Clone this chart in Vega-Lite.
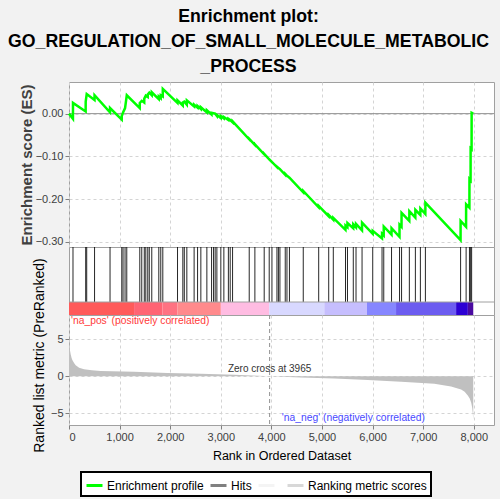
{
  "$schema": "https://vega.github.io/schema/vega-lite/v6.json",
  "background": "#f2f2f2",
  "padding": {"left": 8, "top": 7, "right": 7, "bottom": 2},
  "title": {
    "text": ["Enrichment plot:", "GO_REGULATION_OF_SMALL_MOLECULE_METABOLIC", "_PROCESS"],
    "font": "Liberation Sans", "fontSize": 17.7, "fontWeight": "bold", "color": "black",
    "lineHeight": 25, "anchor": "middle", "frame": "group", "offset": 6, "dx": -33
  },
  "bounds": "flush",
  "datasets": {
    "es": [
      {"rank": 0, "es": 0}, {"rank": 78, "es": -0.012}, {"rank": 79, "es": 0.025},
      {"rank": 329, "es": 0.005}, {"rank": 330, "es": 0.028}, {"rank": 350, "es": 0.046},
      {"rank": 504, "es": 0.032}, {"rank": 505, "es": 0.043}, {"rank": 810, "es": 0.003},
      {"rank": 811, "es": 0.013}, {"rank": 1042, "es": -0.014}, {"rank": 1043, "es": -0.006},
      {"rank": 1068, "es": 0.003}, {"rank": 1108, "es": 0.013}, {"rank": 1142, "es": 0.043},
      {"rank": 1398, "es": 0.013}, {"rank": 1399, "es": 0.025}, {"rank": 1438, "es": 0.030},
      {"rank": 1487, "es": 0.026}, {"rank": 1488, "es": 0.035}, {"rank": 1518, "es": 0.042},
      {"rank": 1556, "es": 0.039}, {"rank": 1557, "es": 0.045}, {"rank": 1587, "es": 0.049},
      {"rank": 1635, "es": 0.043}, {"rank": 1636, "es": 0.050}, {"rank": 1774, "es": 0.034},
      {"rank": 1775, "es": 0.040}, {"rank": 1813, "es": 0.036}, {"rank": 1814, "es": 0.043},
      {"rank": 1853, "es": 0.040}, {"rank": 1854, "es": 0.058}, {"rank": 2144, "es": 0.025},
      {"rank": 2145, "es": 0.031}, {"rank": 2249, "es": 0.019}, {"rank": 2250, "es": 0.026},
      {"rank": 2279, "es": 0.028}, {"rank": 2328, "es": 0.021}, {"rank": 2329, "es": 0.031},
      {"rank": 2472, "es": 0.017}, {"rank": 2473, "es": 0.021}, {"rank": 2540, "es": 0.014},
      {"rank": 2541, "es": 0.018}, {"rank": 2605, "es": 0.011}, {"rank": 2606, "es": 0.015},
      {"rank": 2724, "es": 0.003}, {"rank": 2725, "es": 0.008}, {"rank": 2817, "es": -0.002},
      {"rank": 2818, "es": 0.002}, {"rank": 2857, "es": 0.001}, {"rank": 2889, "es": 0.000},
      {"rank": 2922, "es": -0.005}, {"rank": 2923, "es": -0.003}, {"rank": 3000, "es": -0.010},
      {"rank": 3001, "es": -0.006}, {"rank": 3060, "es": -0.011}, {"rank": 3061, "es": -0.008},
      {"rank": 3149, "es": -0.015}, {"rank": 3150, "es": -0.012}, {"rank": 3186, "es": -0.015},
      {"rank": 3232, "es": -0.020}, {"rank": 3233, "es": -0.018}, {"rank": 3561, "es": -0.060},
      {"rank": 3562, "es": -0.059}, {"rank": 3673, "es": -0.073}, {"rank": 3674, "es": -0.072},
      {"rank": 3857, "es": -0.095}, {"rank": 3858, "es": -0.094}, {"rank": 3956, "es": -0.107},
      {"rank": 3957, "es": -0.107}, {"rank": 4010, "es": -0.113}, {"rank": 4011, "es": -0.113},
      {"rank": 4109, "es": -0.125}, {"rank": 4110, "es": -0.124}, {"rank": 4139, "es": -0.127},
      {"rank": 4169, "es": -0.130}, {"rank": 4273, "es": -0.143}, {"rank": 4274, "es": -0.141},
      {"rank": 4308, "es": -0.145}, {"rank": 4357, "es": -0.150}, {"rank": 4629, "es": -0.184},
      {"rank": 4630, "es": -0.181}, {"rank": 4934, "es": -0.219}, {"rank": 4935, "es": -0.216},
      {"rank": 5132, "es": -0.240}, {"rank": 5133, "es": -0.237}, {"rank": 5223, "es": -0.248},
      {"rank": 5224, "es": -0.244}, {"rank": 5464, "es": -0.272}, {"rank": 5465, "es": -0.262},
      {"rank": 5503, "es": -0.266}, {"rank": 5504, "es": -0.256}, {"rank": 5618, "es": -0.268},
      {"rank": 5619, "es": -0.259}, {"rank": 5672, "es": -0.266}, {"rank": 5673, "es": -0.258},
      {"rank": 5791, "es": -0.273}, {"rank": 5792, "es": -0.255}, {"rank": 6002, "es": -0.281},
      {"rank": 6003, "es": -0.274}, {"rank": 6186, "es": -0.292}, {"rank": 6187, "es": -0.281},
      {"rank": 6220, "es": -0.285}, {"rank": 6221, "es": -0.264}, {"rank": 6374, "es": -0.283},
      {"rank": 6375, "es": -0.268}, {"rank": 6532, "es": -0.288}, {"rank": 6533, "es": -0.260},
      {"rank": 6572, "es": -0.265}, {"rank": 6573, "es": -0.232}, {"rank": 6726, "es": -0.251},
      {"rank": 6727, "es": -0.228}, {"rank": 6845, "es": -0.243}, {"rank": 6846, "es": -0.225},
      {"rank": 6944, "es": -0.237}, {"rank": 6945, "es": -0.222}, {"rank": 7043, "es": -0.235},
      {"rank": 7044, "es": -0.208}, {"rank": 7739, "es": -0.296}, {"rank": 7740, "es": -0.251},
      {"rank": 7848, "es": -0.265}, {"rank": 7849, "es": -0.212}, {"rank": 7914, "es": -0.220},
      {"rank": 7915, "es": -0.153}, {"rank": 7937, "es": -0.156}, {"rank": 7938, "es": -0.081},
      {"rank": 7957, "es": -0.083}, {"rank": 7958, "es": 0.002}, {"rank": 7990, "es": 0.0}
    ],
    "hits": [
      {"rank": 79}, {"rank": 330}, {"rank": 350}, {"rank": 505}, {"rank": 811}, {"rank": 1043},
      {"rank": 1068}, {"rank": 1108}, {"rank": 1142}, {"rank": 1399}, {"rank": 1438}, {"rank": 1488},
      {"rank": 1518}, {"rank": 1557}, {"rank": 1587}, {"rank": 1636}, {"rank": 1775}, {"rank": 1814},
      {"rank": 1854}, {"rank": 2145}, {"rank": 2250}, {"rank": 2279}, {"rank": 2329}, {"rank": 2473},
      {"rank": 2541}, {"rank": 2606}, {"rank": 2725}, {"rank": 2818}, {"rank": 2857}, {"rank": 2889},
      {"rank": 2923}, {"rank": 3001}, {"rank": 3061}, {"rank": 3150}, {"rank": 3186}, {"rank": 3233},
      {"rank": 3562}, {"rank": 3674}, {"rank": 3858}, {"rank": 3957}, {"rank": 4011}, {"rank": 4110},
      {"rank": 4139}, {"rank": 4169}, {"rank": 4274}, {"rank": 4308}, {"rank": 4357}, {"rank": 4630},
      {"rank": 4935}, {"rank": 5133}, {"rank": 5224}, {"rank": 5465}, {"rank": 5504}, {"rank": 5619},
      {"rank": 5673}, {"rank": 5792}, {"rank": 6003}, {"rank": 6187}, {"rank": 6221}, {"rank": 6375},
      {"rank": 6533}, {"rank": 6573}, {"rank": 6727}, {"rank": 6846}, {"rank": 6945}, {"rank": 7044},
      {"rank": 7740}, {"rank": 7849}, {"rank": 7915}, {"rank": 7938}, {"rank": 7958}
    ],
    "bar": [
      {"start": 0, "end": 1286, "seg": "a"},
      {"start": 1286, "end": 1848, "seg": "b"},
      {"start": 1848, "end": 2145, "seg": "c"},
      {"start": 2145, "end": 3001, "seg": "d"},
      {"start": 3001, "end": 3957, "seg": "e"},
      {"start": 3957, "end": 5046, "seg": "f"},
      {"start": 5046, "end": 5890, "seg": "g"},
      {"start": 5890, "end": 6464, "seg": "h"},
      {"start": 6464, "end": 7651, "seg": "i"},
      {"start": 7651, "end": 7883, "seg": "j"},
      {"start": 7883, "end": 7990, "seg": "k"}
    ],
    "metric": [
      {"rank": 0, "metric": 5.4}, {"rank": 10, "metric": 4.2}, {"rank": 20, "metric": 3.5},
      {"rank": 33, "metric": 3.0}, {"rank": 50, "metric": 2.5}, {"rank": 66, "metric": 2.2},
      {"rank": 100, "metric": 1.8}, {"rank": 132, "metric": 1.5}, {"rank": 200, "metric": 1.15},
      {"rank": 297, "metric": 0.95}, {"rank": 450, "metric": 0.8}, {"rank": 627, "metric": 0.72},
      {"rank": 1286, "metric": 0.6}, {"rank": 1946, "metric": 0.45}, {"rank": 2606, "metric": 0.35},
      {"rank": 3265, "metric": 0.2}, {"rank": 3965, "metric": 0.0}, {"rank": 4585, "metric": -0.15},
      {"rank": 5244, "metric": -0.3}, {"rank": 5904, "metric": -0.5}, {"rank": 6563, "metric": -0.75},
      {"rank": 7222, "metric": -1.0}, {"rank": 7400, "metric": -1.2}, {"rank": 7552, "metric": -1.4},
      {"rank": 7650, "metric": -1.6}, {"rank": 7750, "metric": -1.8}, {"rank": 7820, "metric": -2.1},
      {"rank": 7882, "metric": -2.6}, {"rank": 7920, "metric": -3.0}, {"rank": 7950, "metric": -3.6},
      {"rank": 7970, "metric": -4.3}, {"rank": 7980, "metric": -5.0}, {"rank": 7990, "metric": -5.9}
    ]
  },
  "spacing": 0,
  "config": {
    "font": "Liberation Sans",
    "view": {"fill": "white", "stroke": "#a0a0a0"},
    "axis": {
      "domain": false, "gridDash": [3, 3], "gridColor": "#d4d4d4",
      "tickColor": "#808080", "tickSize": 4, "labelFont": "Liberation Sans",
      "labelFontSize": 11, "labelColor": "#404040", "titleFont": "Liberation Sans",
      "titleFontWeight": "normal", "titleColor": "black", "titleFontSize": 12.5
    },
    "legend": {
      "orient": "none", "legendX": 12, "legendY": 390,
      "direction": "horizontal", "title": null, "gridAlign": "none",
      "fillColor": "white", "strokeColor": "black", "strokeWidth": 2, "padding": 4,
      "symbolType": "stroke", "symbolStrokeWidth": 3, "symbolSize": 256,
      "labelFontSize": 12, "labelFont": "Liberation Sans", "labelColor": "black",
      "labelOffset": 3, "columnPadding": 0
    }
  },
  "vconcat": [
    {
      "width": 425,
      "height": 165,
      "layer": [
        {
          "data": {"values": [{"z": 0}]},
          "mark": {"type": "rule", "color": "#909090", "strokeWidth": 1},
          "encoding": {"y": {"field": "z", "type": "quantitative"}}
        },
        {
          "data": {"name": "es"},
          "mark": {"type": "line", "strokeWidth": 2.5},
          "encoding": {
            "x": {
              "field": "rank", "type": "quantitative",
              "scale": {"domain": [0, 8400], "nice": false},
              "axis": {"labels": false, "ticks": false, "title": null, "values": [0, 1000, 2000, 3000, 4000, 5000, 6000, 7000, 8000]}
            },
            "y": {
              "field": "es", "type": "quantitative",
              "scale": {"domain": [-0.312, 0.074], "nice": false, "zero": false},
              "axis": {
                "title": "Enrichment score (ES)", "titleFontSize": 15, "titleColor": "#404040",
                "titleFontWeight": "bold", "format": ".2f", "titlePadding": 1,
                "values": [-0.3, -0.25, -0.2, -0.15, -0.1, -0.05, 0, 0.05]
              }
            },
            "color": {
              "datum": "Enrichment profile",
              "scale": {
                "domain": ["Enrichment profile", "Hits", "", "Ranking metric scores"],
                "range": ["#00ff00", "#808080", "#f4f4f4", "#d8d8d8"]
              }
            }
          }
        }
      ]
    },
    {
      "width": 425,
      "height": 68,
      "layer": [
        {
          "data": {"name": "hits"},
          "mark": {"type": "rule", "color": "#000000", "strokeWidth": 1, "opacity": 0.85},
          "encoding": {
            "x": {
              "field": "rank", "type": "quantitative",
              "scale": {"domain": [0, 8400], "nice": false}, "axis": null
            },
            "y": {"datum": 13, "type": "quantitative", "scale": {"domain": [0, 68], "nice": false}, "axis": null},
            "y2": {"datum": 68}
          }
        },
        {
          "data": {"name": "bar"},
          "mark": {"type": "rect"},
          "encoding": {
            "x": {"field": "start", "type": "quantitative"},
            "x2": {"field": "end"},
            "y": {"datum": 0, "type": "quantitative"},
            "y2": {"datum": 13},
            "fill": {
              "field": "seg", "type": "nominal", "legend": null,
              "scale": {
                "domain": ["a", "b", "c", "d", "e", "f", "g", "h", "i", "j", "k"],
                "range": ["#ff5a5a", "#ff6474", "#ff7282", "#ff8a8c", "#ffbce2", "#d8d8ff", "#c6befe", "#8686ff", "#6c5cf0", "#2c00d4", "#4a0aa0"]
              }
            }
          }
        },
        {
          "data": {"values": [{"z": 13}]},
          "mark": {"type": "rule", "color": "#a0a0a0", "strokeWidth": 1},
          "encoding": {"y": {"field": "z", "type": "quantitative"}}
        }
      ]
    },
    {
      "width": 425,
      "height": 110,
      "layer": [
        {
          "data": {"name": "metric"},
          "mark": {"type": "area", "color": "#c0c0c0", "interpolate": "linear"},
          "encoding": {
            "x": {
              "field": "rank", "type": "quantitative",
              "scale": {"domain": [0, 8400], "nice": false},
              "axis": {
                "title": "Rank in Ordered Dataset", "format": ",d", "titlePadding": 7,
                "values": [0, 1000, 2000, 3000, 4000, 5000, 6000, 7000, 8000]
              }
            },
            "y": {
              "field": "metric", "type": "quantitative",
              "scale": {"domain": [-6.6, 8.3], "nice": false, "zero": false},
              "axis": {"title": "Ranked list metric (PreRanked)", "titleFontSize": 14, "titleY": 40, "values": [-5, 0, 5]}
            }
          }
        },
        {
          "data": {"values": [{"z": 3965}]},
          "mark": {"type": "rule", "color": "#909090", "strokeDash": [4, 3]},
          "encoding": {"x": {"field": "z", "type": "quantitative"}}
        },
        {
          "data": {"values": [{"rank": 3965, "metric": 0.35, "label": "Zero cross at 3965"}]},
          "mark": {"type": "text", "fontSize": 10, "color": "#333333", "baseline": "bottom"},
          "encoding": {
            "x": {"field": "rank", "type": "quantitative"},
            "y": {"field": "metric", "type": "quantitative"},
            "text": {"field": "label"}
          }
        },
        {
          "data": {"values": [{"rank": 40, "metric": 7.5, "label": "'na_pos' (positively correlated)"}]},
          "mark": {"type": "text", "fontSize": 10.3, "color": "#ff3a3a", "align": "left", "baseline": "middle"},
          "encoding": {
            "x": {"field": "rank", "type": "quantitative"},
            "y": {"field": "metric", "type": "quantitative"},
            "text": {"field": "label"}
          }
        },
        {
          "data": {"values": [{"rank": 5620, "metric": -5.6, "label": "'na_neg' (negatively correlated)"}]},
          "mark": {"type": "text", "fontSize": 10.3, "color": "#4848ff", "align": "center", "baseline": "middle"},
          "encoding": {
            "x": {"field": "rank", "type": "quantitative"},
            "y": {"field": "metric", "type": "quantitative"},
            "text": {"field": "label"}
          }
        }
      ]
    }
  ]
}
